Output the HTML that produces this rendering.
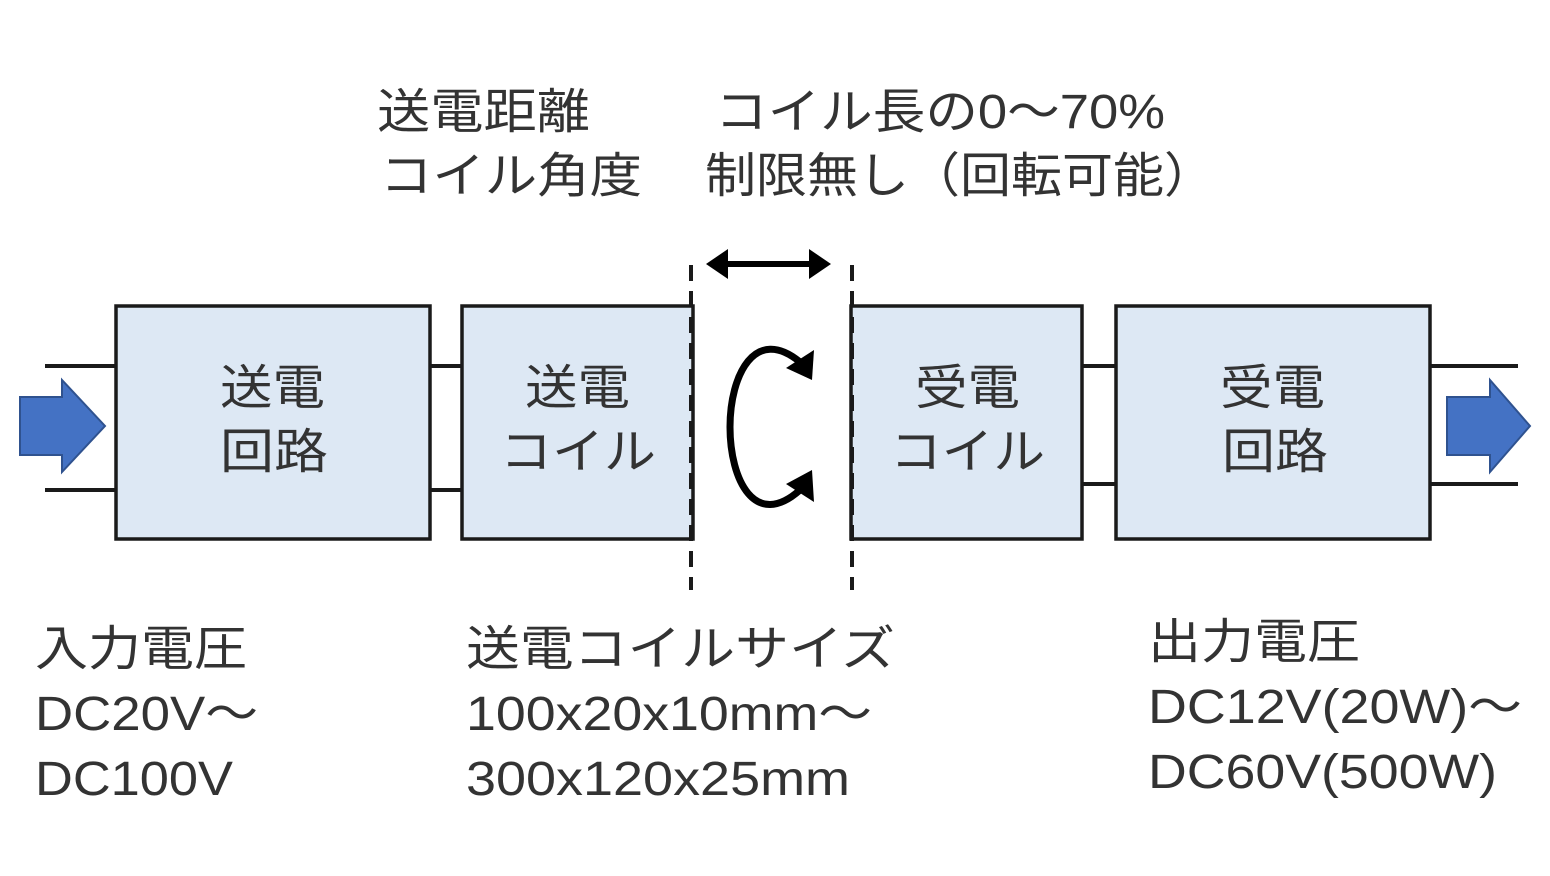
<!DOCTYPE html>
<html><head><meta charset="utf-8"><style>
html,body{margin:0;padding:0;background:#fff;}
svg{display:block}
text{font-family:"Liberation Sans","Noto Sans CJK JP",sans-serif;fill:#333;font-size:48px;}
</style></head><body>
<svg width="1550" height="876" viewBox="0 0 1550 876" xmlns="http://www.w3.org/2000/svg">
<g stroke="#1a1a1a" stroke-width="4" fill="none">
<line x1="45" y1="366" x2="116" y2="366"/><line x1="45" y1="490" x2="116" y2="490"/>
<line x1="430" y1="366" x2="462" y2="366"/><line x1="430" y1="490" x2="462" y2="490"/>
<line x1="1082" y1="366" x2="1116" y2="366"/><line x1="1082" y1="484" x2="1116" y2="484"/>
<line x1="1430" y1="366" x2="1518" y2="366"/><line x1="1430" y1="484" x2="1518" y2="484"/>
</g>
<g fill="#dde8f4" stroke="#1a1a1a" stroke-width="3.5">
<rect x="116" y="306" width="314" height="233"/>
<rect x="462" y="306" width="231" height="233"/>
<rect x="851" y="306" width="231" height="233"/>
<rect x="1116" y="306" width="314" height="233"/>
</g>
<g fill="#4472c4" stroke="#2f528f" stroke-width="2">
<polygon points="20,397 62,397 62,380 105,426 62,472 62,455 20,455"/>
<polygon points="1447,397 1490,397 1490,380 1530,426 1490,472 1490,455 1447,455"/>
</g>
<g stroke="#1a1a1a" stroke-width="4" stroke-dasharray="16,10">
<line x1="691" y1="265" x2="691" y2="590"/>
<line x1="852" y1="265" x2="852" y2="590"/>
</g>
<line x1="725" y1="264" x2="812" y2="264" stroke="#000" stroke-width="6"/>
<polygon points="706,264 728,249 728,279" fill="#000"/>
<polygon points="831,264 809,249 809,279" fill="#000"/>
<path d="M800,362 C755,325 730,375 730,427 C730,480 755,530 800,490" stroke="#000" stroke-width="7" fill="none"/>
<polygon points="814,350 812,380 786,368" fill="#000"/>
<polygon points="814,502 812,470 786,484" fill="#000"/>
<g lengthAdjust="spacingAndGlyphs">
<text x="377" y="128" textLength="213" lengthAdjust="spacingAndGlyphs">送電距離</text>
<text x="715" y="128" textLength="450" lengthAdjust="spacingAndGlyphs">コイル長の0〜70%</text>
<text x="380" y="192" textLength="262" lengthAdjust="spacingAndGlyphs">コイル角度</text>
<text x="705" y="192" textLength="510" lengthAdjust="spacingAndGlyphs">制限無し（回転可能）</text>
<text x="220" y="404" textLength="105" lengthAdjust="spacingAndGlyphs">送電</text>
<text x="220" y="468" textLength="108" lengthAdjust="spacingAndGlyphs">回路</text>
<text x="525" y="404" textLength="105" lengthAdjust="spacingAndGlyphs">送電</text>
<text x="500" y="468" textLength="156" lengthAdjust="spacingAndGlyphs">コイル</text>
<text x="915" y="404" textLength="105" lengthAdjust="spacingAndGlyphs">受電</text>
<text x="890" y="468" textLength="155" lengthAdjust="spacingAndGlyphs">コイル</text>
<text x="1220" y="404" textLength="105" lengthAdjust="spacingAndGlyphs">受電</text>
<text x="1222" y="468" textLength="106" lengthAdjust="spacingAndGlyphs">回路</text>
<text x="35" y="665" textLength="212" lengthAdjust="spacingAndGlyphs">入力電圧</text>
<text x="35" y="730" textLength="223" lengthAdjust="spacingAndGlyphs">DC20V〜</text>
<text x="35" y="795" textLength="198" lengthAdjust="spacingAndGlyphs">DC100V</text>
<text x="466" y="665" textLength="429" lengthAdjust="spacingAndGlyphs">送電コイルサイズ</text>
<text x="466" y="730" textLength="406" lengthAdjust="spacingAndGlyphs">100x20x10mm〜</text>
<text x="466" y="795" textLength="384" lengthAdjust="spacingAndGlyphs">300x120x25mm</text>
<text x="1148" y="658" textLength="212" lengthAdjust="spacingAndGlyphs">出力電圧</text>
<text x="1148" y="723" textLength="374" lengthAdjust="spacingAndGlyphs">DC12V(20W)〜</text>
<text x="1148" y="788" textLength="349" lengthAdjust="spacingAndGlyphs">DC60V(500W)</text>
</g>
</svg>
</body></html>
